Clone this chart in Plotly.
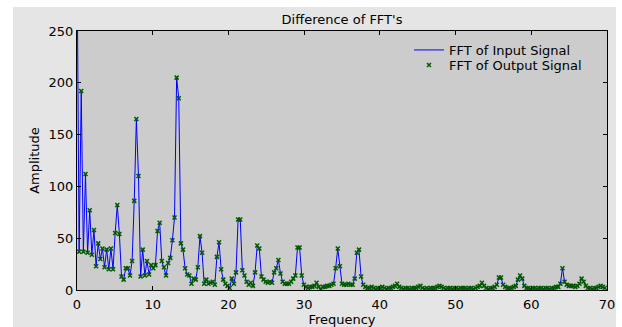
import numpy as np
import plotly.graph_objects as go

# Frequency bin spacing
bin_width = 0.28

# Amplitude of FFT (input signal), one value per frequency bin
amp_0_39 = [330, 37, 192, 37, 112, 36, 77, 34, 58, 23,
            45, 30, 40, 22, 39, 20, 40, 20, 55, 82,
            54, 13, 10, 21, 21, 14, 28, 86, 165, 110,
            13, 39, 14, 28, 15, 24, 21, 24, 57, 65]
amp_40_79 = [28, 22, 14, 26, 31, 48, 70, 205, 185, 45,
             39, 21, 15, 14, 6, 11, 10, 22, 52, 36,
             6, 10, 6, 7, 8, 5, 32, 46, 20, 10,
             6, 4, 2, 11, 6, 17, 68, 68, 19, 14]
amp_80_119 = [8, 5, 7, 4, 17, 43, 40, 13, 10, 8,
              7, 8, 7, 17, 21, 29, 16, 8, 6, 6,
              6, 8, 11, 14, 41, 41, 14, 5, 3, 2,
              3, 3, 4, 7, 3, 1, 3, 3, 4, 4]
amp_120_159 = [5, 6, 21, 40, 23, 6, 5, 5, 6, 5,
               5, 11, 36, 39, 13, 5, 3, 2, 2, 3,
               2, 1, 2, 2, 3, 2, 1, 2, 2, 3,
               4, 6, 3, 2, 1, 2, 2, 1, 2, 2]
amp_160_199 = [2, 3, 4, 2, 1, 2, 1, 2, 2, 2,
               3, 4, 3, 2, 1, 2, 2, 1, 2, 2,
               1, 2, 2, 2, 1, 2, 2, 1, 2, 3,
               4, 7, 4, 2, 1, 2, 2, 3, 5, 12]
amp_200_249 = [12, 5, 3, 2, 2, 2, 3, 4, 10, 14,
               11, 4, 2, 2, 1, 2, 2, 1, 2, 2,
               1, 2, 2, 1, 2, 2, 3, 3, 6, 21,
               8, 5, 4, 4, 4, 3, 4, 6, 11, 8,
               4, 2, 2, 1, 2, 2, 3, 4, 3, 2]

amp_input = amp_0_39 + amp_40_79 + amp_80_119 + amp_120_159 + amp_160_199 + amp_200_249
amp_output = list(amp_input)
frequency = np.arange(len(amp_input)) * bin_width

x_ticks = [0, 10, 20, 30, 40, 50, 60, 70]
y_ticks = [0, 50, 100, 150, 200, 250]

FONT = "DejaVu Sans, sans-serif"
FS = 13
W, H = 622, 327
L, R, T, B = 77, 15, 31, 37
PW, PH = W - L - R, H - T - B

fig = go.Figure()
fig.add_trace(go.Scatter(
    x=frequency, y=amp_input, mode="lines", name="FFT of Input Signal",
    line=dict(color="#0000ff", width=1), legend="legend", showlegend=True,
))
fig.add_trace(go.Scatter(
    x=frequency, y=amp_output, mode="markers", name="FFT of Output Signal",
    marker=dict(symbol="x-thin", size=4, color="#005a00",
                line=dict(color="#005a00", width=1.5)),
    legend="legend2", showlegend=True,
))

axis_common = dict(
    showline=True, linecolor="black", linewidth=1, mirror="ticks",
    ticks="inside", ticklen=4, tickcolor="black", tickwidth=1,
    showgrid=False, zeroline=False, automargin=False,
    tickfont=dict(family=FONT, size=FS, color="black"),
)

fig.update_xaxes(range=[0, 70], tickvals=x_ticks, ticklabelstandoff=2,
                 title=dict(text="Frequency", font=dict(family=FONT, size=FS, color="black"), standoff=1),
                 **axis_common)
fig.update_yaxes(range=[0, 250], tickvals=y_ticks,
                 title=dict(text="Amplitude", font=dict(family=FONT, size=FS, color="black"), standoff=6),
                 **axis_common)


def px_x(p):
    return (p - L) / PW


def px_y(p):
    return (H - B - p) / PH


legend_common = dict(xanchor="left", yanchor="top", bgcolor="rgba(0,0,0,0)", borderwidth=0,
                     font=dict(family=FONT, size=FS, color="black"), visible=True)

fig.update_layout(
    width=W, height=H,
    margin=dict(l=L, r=R, t=T, b=B, autoexpand=False),
    paper_bgcolor="#e5e5e5",
    plot_bgcolor="#cccccc",
    showlegend=True,
    title=dict(text="Difference of FFT's", x=0.5, xref="paper", xanchor="center",
               y=(H - 19) / H, yanchor="middle",
               font=dict(family=FONT, size=FS, color="black")),
    legend=dict(x=px_x(409), y=px_y(35), **legend_common),
    legend2=dict(x=px_x(409), y=px_y(50), **legend_common),
    shapes=[
        dict(type="rect", xref="paper", yref="paper",
             x0=px_x(0), x1=px_x(13), y0=px_y(H), y1=px_y(0),
             fillcolor="white", line=dict(width=0), layer="above"),
        dict(type="rect", xref="paper", yref="paper",
             x0=px_x(0), x1=px_x(W), y0=px_y(7), y1=px_y(0),
             fillcolor="white", line=dict(width=0), layer="above"),
        dict(type="rect", xref="paper", yref="paper",
             x0=px_x(616), x1=px_x(W), y0=px_y(H), y1=px_y(0),
             fillcolor="white", line=dict(width=0), layer="above"),
    ],
)

fig.write_html("out.html")
